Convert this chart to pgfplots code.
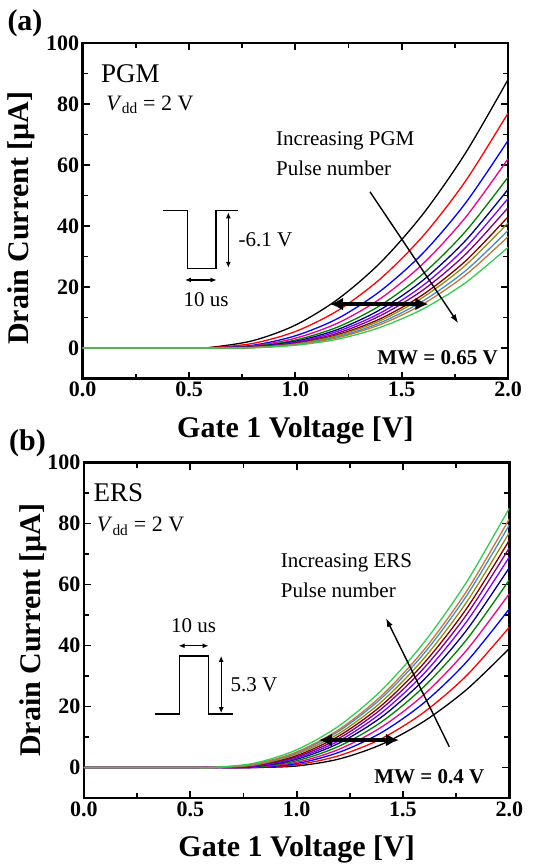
\documentclass[border=0pt]{standalone}
\usepackage{fontspec}
\setmainfont{Liberation Serif}
\usepackage{pgfplots}
\pgfplotsset{compat=1.18}
\usepackage{pgfplotstable}
\usetikzlibrary{arrows.meta}

\definecolor{cgreen}{RGB}{0,128,0}
\definecolor{cnavy}{RGB}{0,0,128}
\definecolor{cviolet}{RGB}{128,0,255}
\definecolor{cpurple}{RGB}{128,0,128}
\definecolor{cwine}{RGB}{128,0,0}
\definecolor{colive}{RGB}{150,140,20}
\definecolor{csteel}{RGB}{70,140,200}
\definecolor{cbrown}{RGB}{195,120,55}
\definecolor{clgreen}{RGB}{50,205,80}

\pgfplotstableread{
x    k0   k1   k2   k3   k4   k5   k6   k7   k8   k9   k10  k11  k12
0    0    0    0    0    0    0    0    0    0    0    0    0    0
0.5  0    0    0    0    0    0    0    0    0    0    0    0    0
0.6  0.2  0.1  0.0  0    0    0    0    0    0    0    0    0    0
0.8  2.4  1.5  0.9  0.7  0.5  0.4  0.3  0.3  0.2  0.2  0.1  0.1  0.1
1.0  7.5  5.4  4.0  3.2  2.6  2.2  1.9  1.7  1.4  1.3  1.2  1.1  0.9
1.2  16.0 12.3 9.7  8.2  6.9  6.1  5.5  4.9  4.4  4.1  3.7  3.4  2.9
1.4  28.0 22.7 18.7 16.2 14.0 12.6 11.5 10.6 9.6  9.0  8.3  7.7  6.8
1.6  43.9 36.7 31.1 27.6 24.3 22.2 20.5 19.0 17.5 16.6 15.4 14.4 12.8
1.8  63.9 54.7 47.5 42.8 38.2 35.2 32.9 30.7 28.5 27.1 25.3 23.9 21.4
2.0  88   77   68   62   56   52   49   46   43   41   38.5 36.5 33
}\pgmtable

\pgfplotstableread{
x    k0   k1   k2   k3   k4   k5   k6   k7   k8   k9   k10  k11  k12
0    0    0    0    0    0    0    0    0    0    0    0    0    0
0.5  0    0    0    0    0    0    0    0    0    0    0    0    0
0.6  0    0    0    0    0    0    0    0    0    0    0    0    0
0.8  0    0.0  0.0  0.1  0.2  0.3  0.4  0.6  0.7  0.8  1.0  1.1  1.4
1.0  0.5  0.9  1.3  1.7  2.2  2.7  3.1  3.5  3.9  4.4  4.8  5.1  5.8
1.2  2.8  3.9  5.0  6.0  7.0  8.0  8.8  9.6  10.4 11.2 12.0 12.5 13.7
1.4  7.6  9.5  11.5 13.3 15.0 16.6 18.0 19.3 20.4 21.6 22.8 23.6 25.4
1.6  15.2 18.2 21.3 24.0 26.6 28.9 30.9 32.7 34.3 35.9 37.5 38.7 41.1
1.8  25.6 30.2 34.7 38.5 42.0 45.1 47.9 50.2 52.2 54.3 56.4 57.9 60.9
2.0  39   46   52   57   61.5 65.5 69   72   74.5 77   79.5 81.5 85
}\erstable

\pgfplotsset{
  myaxis/.style={
    scale only axis, width=425.3pt, height=335.5pt,
    xmin=0, xmax=2, ymin=-10, ymax=100,
    xtick={0,0.5,1,1.5,2}, ytick={0,20,40,60,80,100},
    minor x tick num=1, minor y tick num=1,
    tick align=inside,
    major tick length=7pt, minor tick length=5pt,
    tick style={line width=1.8pt, black},
    axis line style={line width=2.6pt},
    /pgf/number format/assume math mode=true,
    ticklabel style={font=\fontsize{22}{22}\selectfont\bfseries},
    xticklabel style={/pgf/number format/fixed, /pgf/number format/fixed zerofill, /pgf/number format/precision=1},
    xlabel={Gate 1 Voltage [V]},
    ylabel={Drain Current [µA]},
  },
  curve/.style={smooth, line width=1.3pt, no markers},
}
\tikzset{
  bigarrow/.style={line width=3.3pt, {Latex[length=13pt,width=13pt]}-{Latex[length=13pt,width=13pt]}},
  smallarrow/.style={line width=1.2pt, {Latex[length=6pt,width=5pt]}-{Latex[length=6pt,width=5pt]}},
  annot/.style={inner sep=0pt, font=\fontsize{21}{21}\selectfont},
  lbl/.style={font=\fontsize{30}{30}\selectfont\bfseries, anchor=center},
}

\begin{document}
\begin{tikzpicture}
% ---------------- (a) PGM ----------------
\begin{axis}[myaxis, at={(0pt,0pt)},
  every axis x label/.style={at={(axis description cs:0.5,-0.156)}, lbl},
  every axis y label/.style={at={(axis description cs:-0.1434,0.478)}, rotate=90, lbl},
]
\addplot[curve, black]   table[x=x,y=k0]{\pgmtable};
\addplot[curve, red]     table[x=x,y=k1]{\pgmtable};
\addplot[curve, blue]    table[x=x,y=k2]{\pgmtable};
\addplot[curve, magenta] table[x=x,y=k3]{\pgmtable};
\addplot[curve, cgreen]  table[x=x,y=k4]{\pgmtable};
\addplot[curve, cnavy]   table[x=x,y=k5]{\pgmtable};
\addplot[curve, cviolet] table[x=x,y=k6]{\pgmtable};
\addplot[curve, cpurple] table[x=x,y=k7]{\pgmtable};
\addplot[curve, cwine]   table[x=x,y=k8]{\pgmtable};
\addplot[curve, colive]  table[x=x,y=k9]{\pgmtable};
\addplot[curve, csteel]  table[x=x,y=k10]{\pgmtable};
\addplot[curve, cbrown]  table[x=x,y=k11]{\pgmtable};
\addplot[curve, clgreen] table[x=x,y=k12]{\pgmtable};

\node[inner sep=0pt, anchor=base west, font=\fontsize{27}{27}\selectfont] at (axis cs:0.086,86.9) {PGM};
\node[inner sep=0pt, anchor=west, font=\fontsize{22}{22}\selectfont] at (axis cs:0.11,79.7) {\textit{V}\textsubscript{dd} = 2 V};
\node[annot, anchor=west] at (axis cs:0.909,67.9) {Increasing PGM};
\node[annot, anchor=west] at (axis cs:0.909,59.0) {Pulse number};
\draw[line width=1.4pt, -{Latex[length=9pt,width=6pt]}] (axis cs:1.351,51.2) -- (axis cs:1.766,8.1);
\draw[bigarrow] (axis cs:1.163,14.4) -- (axis cs:1.625,14.4);
\node[inner sep=0pt, anchor=east, font=\bfseries\fontsize{21}{21}\selectfont] at (axis cs:1.953,-3.3) {MW = 0.65 V};
\draw[line width=1.4pt] (axis cs:0.379,45) -- (axis cs:0.492,45) -- (axis cs:0.492,26.1) -- (axis cs:0.627,26.1) -- (axis cs:0.627,45) -- (axis cs:0.732,45);
\draw[smallarrow] (axis cs:0.685,44.5) -- (axis cs:0.685,26.3);
\node[annot, anchor=west] at (axis cs:0.732,35.4) {-6.1 V};
\draw[smallarrow] (axis cs:0.481,22.3) -- (axis cs:0.630,22.3);
\node[annot] at (axis cs:0.58,15.7) {10 us};
\end{axis}
\node[inner sep=0pt, font=\bfseries\fontsize{30}{30}\selectfont] at (-57.7pt,355.5pt) {(a)};

% ---------------- (b) ERS ----------------
\begin{axis}[myaxis, at={(1.3pt,-419.5pt)},
  every axis x label/.style={at={(axis description cs:0.5,-0.152)}, lbl},
  every axis y label/.style={at={(axis description cs:-0.119,0.50)}, rotate=90, lbl},
]
\addplot[curve, black]   table[x=x,y=k0]{\erstable};
\addplot[curve, red]     table[x=x,y=k1]{\erstable};
\addplot[curve, blue]    table[x=x,y=k2]{\erstable};
\addplot[curve, magenta] table[x=x,y=k3]{\erstable};
\addplot[curve, cgreen]  table[x=x,y=k4]{\erstable};
\addplot[curve, cnavy]   table[x=x,y=k5]{\erstable};
\addplot[curve, cviolet] table[x=x,y=k6]{\erstable};
\addplot[curve, cpurple] table[x=x,y=k7]{\erstable};
\addplot[curve, cwine]   table[x=x,y=k8]{\erstable};
\addplot[curve, colive]  table[x=x,y=k9]{\erstable};
\addplot[curve, csteel]  table[x=x,y=k10]{\erstable};
\addplot[curve, cbrown]  table[x=x,y=k11]{\erstable};
\addplot[curve, clgreen] table[x=x,y=k12]{\erstable};

\node[inner sep=0pt, anchor=west, font=\fontsize{27}{27}\selectfont] at (axis cs:0.044,90.1) {ERS};
\node[inner sep=0pt, anchor=west, font=\fontsize{22}{22}\selectfont] at (axis cs:0.06,79.1) {\textit{V}\textsubscript{dd} = 2 V};
\node[annot, anchor=west] at (axis cs:0.925,67.1) {Increasing ERS};
\node[annot, anchor=west] at (axis cs:0.925,58.1) {Pulse number};
\draw[line width=1.4pt, -{Latex[length=9pt,width=6pt]}] (axis cs:1.718,6.8) -- (axis cs:1.42,49);
\draw[bigarrow] (axis cs:1.105,9) -- (axis cs:1.481,9);
\node[inner sep=0pt, anchor=east, font=\bfseries\fontsize{21}{21}\selectfont] at (axis cs:1.883,-3.1) {MW = 0.4 V};
\draw[line width=1.4pt] (axis cs:0.335,17.5) -- (axis cs:0.45,17.5) -- (axis cs:0.45,36.6) -- (axis cs:0.586,36.6) -- (axis cs:0.586,17.5) -- (axis cs:0.70,17.5);
\draw[smallarrow] (axis cs:0.645,36.6) -- (axis cs:0.645,17.8);
\node[annot, anchor=west] at (axis cs:0.689,27.1) {5.3 V};
\draw[smallarrow] (axis cs:0.445,39.9) -- (axis cs:0.586,39.9);
\node[annot] at (axis cs:0.515,46.5) {10 us};
\end{axis}
\node[inner sep=0pt, font=\bfseries\fontsize{30}{30}\selectfont] at (-55.2pt,-64.5pt) {(b)};

\path (-82.7pt,-489.5pt) rectangle (461.3pt,378.5pt);
\end{tikzpicture}
\end{document}
